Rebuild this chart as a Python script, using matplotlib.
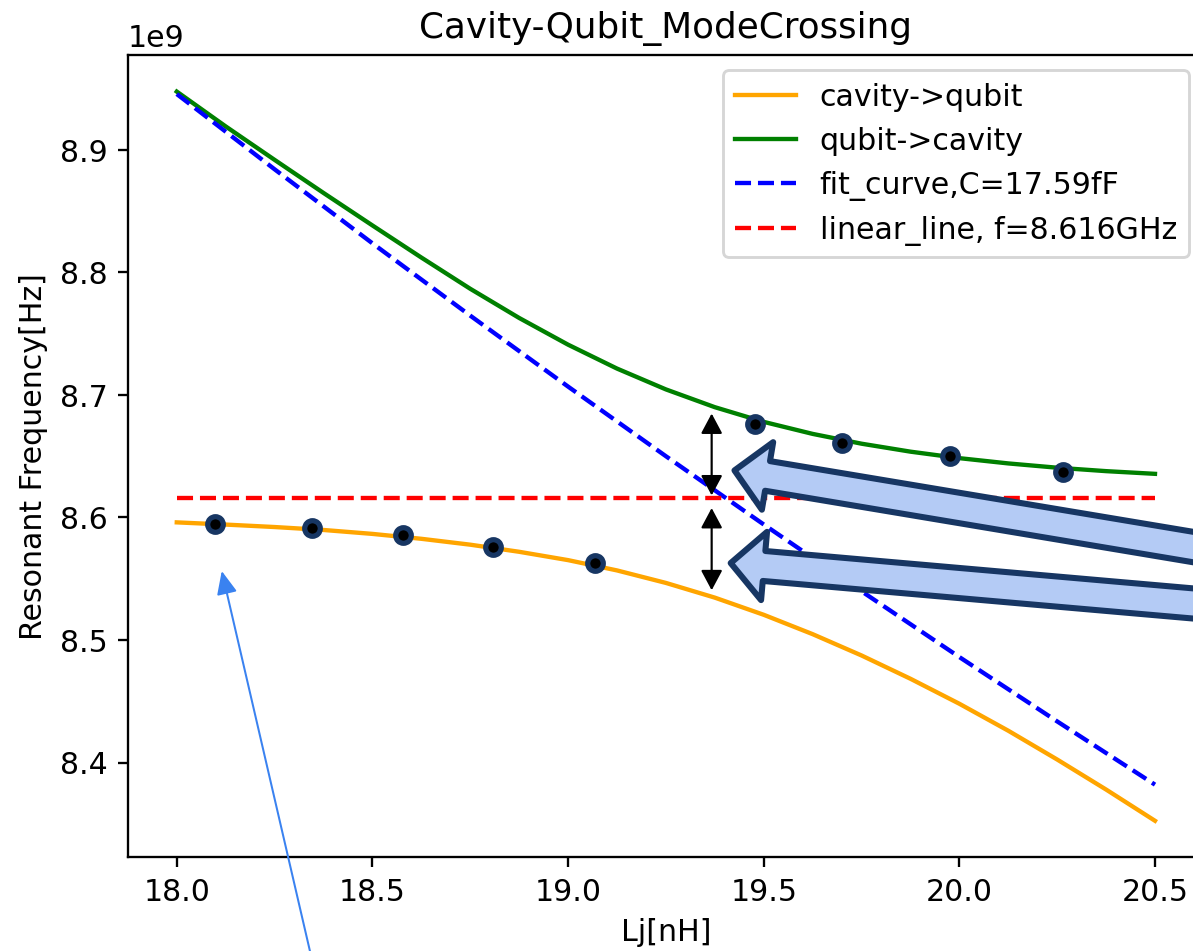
import numpy as np
import matplotlib
matplotlib.use("Agg")
import matplotlib.pyplot as plt

# ---------------- data ----------------
lj_curve = [18.000, 18.125, 18.250, 18.375, 18.500, 18.625, 18.750,
            18.875, 19.000, 19.125, 19.250, 19.375, 19.500, 19.625,
            19.750, 19.875, 20.000, 20.125, 20.250, 20.375, 20.500]

# lower branch (GHz)
cavity_to_qubit = [8.5960, 8.5942, 8.5922, 8.5898, 8.5866, 8.5826, 8.5778,
                   8.5720, 8.5652, 8.5568, 8.5466, 8.5346, 8.5206, 8.5048,
                   8.4874, 8.4684, 8.4480, 8.4260, 8.4025, 8.3780, 8.3525]

# upper branch (GHz)
qubit_to_cavity = [8.9475, 8.9191, 8.8918, 8.8648, 8.8383, 8.8121, 8.7866,
                   8.7628, 8.7410, 8.7215, 8.7045, 8.6900, 8.6780, 8.6682,
                   8.6602, 8.6537, 8.6484, 8.6441, 8.6406, 8.6378, 8.6356]

lj_fit = [18.00, 18.25, 18.50, 18.75, 19.00, 19.25, 19.50, 19.75, 20.00, 20.25, 20.50]
fit_curve = [8.9455, 8.8841, 8.8237, 8.7647, 8.7068, 8.6500, 8.5943, 8.5398,
             8.4861, 8.4336, 8.3820]

lj_linear = [18.0, 20.5]
linear_line = [8.616, 8.616]

# measured points (overlay)
lower_pts_lj = [18.098, 18.346, 18.577, 18.808, 19.070]
lower_pts_f = [8.5949, 8.5917, 8.5854, 8.5762, 8.5632]
upper_pts_lj = [19.478, 19.700, 19.977, 20.265]
upper_pts_f = [8.6764, 8.6606, 8.6498, 8.6368]

labels = ["cavity->qubit", "qubit->cavity", "fit_curve,C=17.59fF",
          "linear_line, f=8.616GHz"]

GHZ = 1e9

# ---------------- figure ----------------
plt.rcParams["font.size"] = 10.4
plt.rcParams["axes.titlesize"] = 12.4

DPI = 208
fig = plt.figure(figsize=(1193.4 / DPI, 951.4 / DPI), dpi=DPI)
ax = fig.add_axes([0.10713, 0.09853, 0.90168, 0.84311])

ax.plot(lj_curve, np.array(cavity_to_qubit) * GHZ, color="orange", label=labels[0])
ax.plot(lj_curve, np.array(qubit_to_cavity) * GHZ, color="green", label=labels[1])
ax.plot(lj_fit, np.array(fit_curve) * GHZ, "b--", label=labels[2])
ax.plot(lj_linear, np.array(linear_line) * GHZ, "r--", label=labels[3])

ax.set_title("Cavity-Qubit_ModeCrossing")
ax.set_xlabel("Lj[nH]")
ax.set_ylabel("Resonant Frequency[Hz]")
ax.legend(loc="upper right")

# ---------------- overlay annotations ----------------
navy = "#173663"
pt_style = dict(linestyle="none", marker="o", markersize=5.4, markerfacecolor="black",
                markeredgecolor=navy, markeredgewidth=1.8, zorder=5)
ax.plot(lower_pts_lj, np.array(lower_pts_f) * GHZ, **pt_style)
ax.plot(upper_pts_lj, np.array(upper_pts_f) * GHZ, **pt_style)

# black double-headed arrows at the crossing
dbl = dict(arrowstyle="<|-|>,head_length=5.9,head_width=3.15", mutation_scale=1,
           color="black", lw=0.75, shrinkA=0, shrinkB=0)
gap_x = 19.367
ax.annotate("", xy=(gap_x, 8.6848 * GHZ), xytext=(gap_x, 8.6180 * GHZ), arrowprops=dbl)
ax.annotate("", xy=(gap_x, 8.6077 * GHZ), xytext=(gap_x, 8.5406 * GHZ), arrowprops=dbl)

# big light-blue arrows coming from the right
big = dict(arrowstyle="simple,head_length=11.6,head_width=23.7,tail_width=10.4",
           mutation_scale=1, fc="#b4cbf5", ec=navy, lw=2.1, shrinkA=0, shrinkB=0)
ax.annotate("", xy=(19.4253, 8.6384 * GHZ), xycoords="data",
            xytext=(1300, 951 - 564.9), textcoords="figure pixels",
            arrowprops=big, annotation_clip=False)
ax.annotate("", xy=(19.4156, 8.5628 * GHZ), xycoords="data",
            xytext=(1300, 951 - 612.8), textcoords="figure pixels",
            arrowprops=big, annotation_clip=False)

# thin blue arrow from the bottom
thin = dict(arrowstyle="-|>,head_length=6.8,head_width=3.0", mutation_scale=1,
            color="#3a82f0", lw=0.7, shrinkA=0, shrinkB=0)
ax.annotate("", xy=(18.115, 8.5563 * GHZ), xycoords="data",
            xytext=(321.3, 951 - 1000), textcoords="figure pixels",
            arrowprops=thin, annotation_clip=False)

fig.savefig("out.png", dpi=DPI)
